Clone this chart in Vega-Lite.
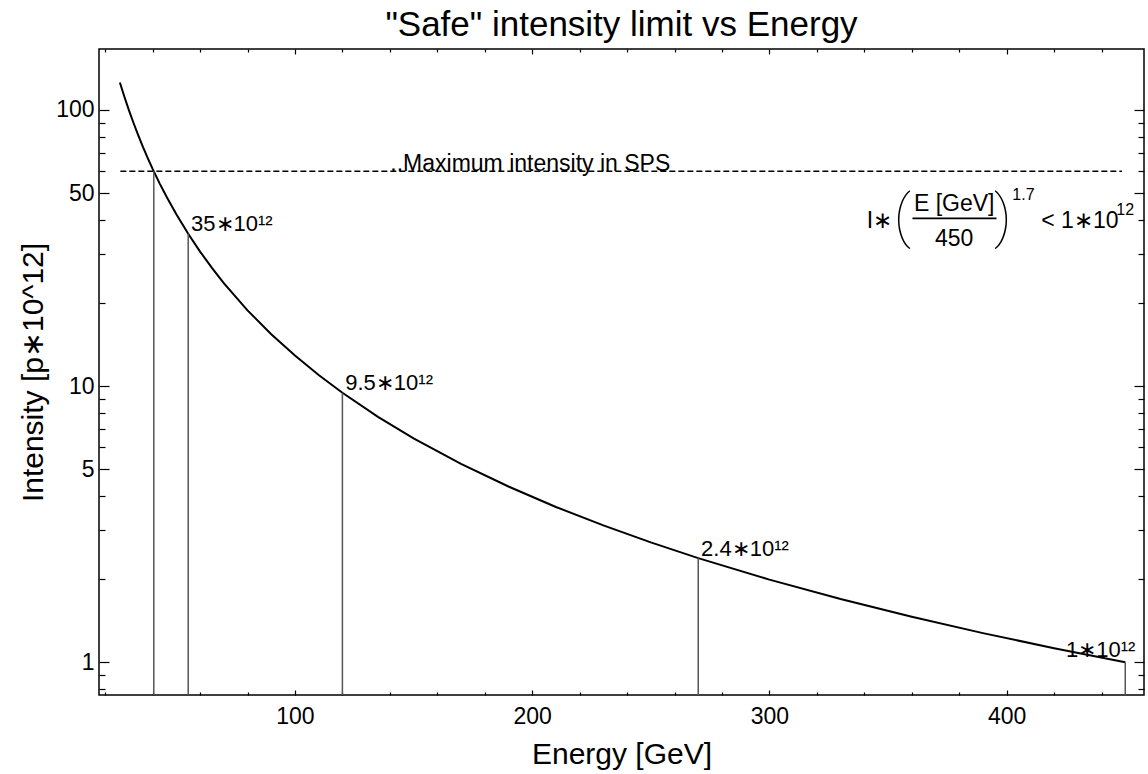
{
  "$schema": "https://vega.github.io/schema/vega-lite/v6.json",
  "width": 1045,
  "height": 646,
  "autosize": {"type": "none"},
  "padding": {"left": 99, "top": 49, "right": 4, "bottom": 79},
  "background": "white",
  "title": {"text": "\"Safe\" intensity limit vs Energy", "fontSize": 35, "font": "Liberation Sans", "fontWeight": "normal", "color": "#000", "offset": 5, "anchor": "middle"},
  "config": {
    "view": {"stroke": "#000", "strokeWidth": 1.5},
    "axis": {"grid": false, "domain": false, "labelFont": "Liberation Sans", "titleFont": "Liberation Sans, Noto Sans, Lato", "labelColor": "#000", "titleColor": "#000", "tickColor": "#000", "tickWidth": 1.2, "labelFontSize": 23, "titleFontSize": 30, "titleFontWeight": "normal"},
    "text": {"font": "Liberation Sans, Noto Sans, Lato", "color": "#000"}
  },
  "datasets": {
    "curve": [
      {"E": 26.2, "I": 125.7}, {"E": 28, "I": 112.3}, {"E": 30, "I": 99.8}, {"E": 32, "I": 89.5},
      {"E": 34, "I": 80.7}, {"E": 36, "I": 73.2}, {"E": 38, "I": 66.8}, {"E": 40, "I": 61.2},
      {"E": 43, "I": 54.1}, {"E": 46, "I": 48.3}, {"E": 50, "I": 41.9}, {"E": 55, "I": 35.6},
      {"E": 60, "I": 30.7}, {"E": 65, "I": 26.8}, {"E": 70, "I": 23.6}, {"E": 80, "I": 18.8},
      {"E": 90, "I": 15.4}, {"E": 100, "I": 12.9}, {"E": 110, "I": 10.97}, {"E": 120, "I": 9.46},
      {"E": 135, "I": 7.74}, {"E": 150, "I": 6.47}, {"E": 170, "I": 5.23}, {"E": 190, "I": 4.33},
      {"E": 210, "I": 3.65}, {"E": 230, "I": 3.13}, {"E": 250, "I": 2.716}, {"E": 270, "I": 2.383},
      {"E": 300, "I": 1.992}, {"E": 330, "I": 1.694}, {"E": 360, "I": 1.461}, {"E": 390, "I": 1.275},
      {"E": 420, "I": 1.124}, {"E": 450, "I": 1.0}
    ],
    "levels": [
      {"E": 40.5, "I": 60}, {"E": 55, "I": 35.6}, {"E": 120, "I": 9.46}, {"E": 270, "I": 2.38}, {"E": 450, "I": 1.0}
    ],
    "levelLabels": [
      {"E": 56.2, "I": 36.3, "label": "35∗10¹²"},
      {"E": 121.2, "I": 9.67, "label": "9.5∗10¹²"},
      {"E": 271.2, "I": 2.43, "label": "2.4∗10¹²"},
      {"E": 425, "I": 1.045, "label": "1∗10¹²"}
    ]
  },
  "resolve": {"axis": {"x": "independent", "y": "independent"}},
  "layer": [
    {
      "data": {"name": "curve"},
      "mark": {"type": "line", "color": "#000", "strokeWidth": 2},
      "encoding": {
        "x": {"field": "E", "type": "quantitative", "scale": {"type": "linear", "domain": [17.4, 457.9], "nice": false, "zero": false},
              "axis": {"orient": "bottom", "values": [100, 200, 300, 400], "ticks": false, "labelPadding": 10, "title": "Energy [GeV]", "titlePadding": 11}},
        "y": {"field": "I", "type": "quantitative", "scale": {"type": "log", "domain": [0.761, 166.2], "nice": false},
              "axis": {"orient": "left", "values": [1, 5, 10, 50, 100], "format": "d", "ticks": false, "labelPadding": 5, "title": "Intensity [p∗10^12]", "titlePadding": 7}}
      }
    },
    {
      "data": {"values": [{"E": 26.4, "E2": 448.6, "I": 60}]},
      "mark": {"type": "rule", "strokeDash": [6, 3], "strokeWidth": 1.5, "color": "#000"},
      "encoding": {
        "x": {"field": "E", "type": "quantitative", "scale": {"type": "linear", "domain": [17.4, 457.9], "nice": false, "zero": false},
              "axis": {"orient": "bottom", "values": [100, 200, 300, 400], "labels": false, "tickSize": -5, "title": null}},
        "x2": {"field": "E2"},
        "y": {"field": "I", "type": "quantitative", "scale": {"type": "log", "domain": [0.761, 166.2], "nice": false},
              "axis": {"orient": "left", "values": [1, 5, 10, 50, 100], "labels": false, "tickSize": -10, "title": null}}
      }
    },
    {
      "data": {"name": "levels"},
      "mark": {"type": "rule", "color": "#555", "strokeWidth": 1.5},
      "encoding": {
        "x": {"field": "E", "type": "quantitative", "scale": {"type": "linear", "domain": [17.4, 457.9], "nice": false, "zero": false},
              "axis": {"orient": "bottom", "values": [20, 40, 60, 80, 120, 140, 160, 180, 220, 240, 260, 280, 320, 340, 360, 380, 420, 440], "labels": false, "tickSize": -3, "title": null}},
        "y": {"field": "I", "type": "quantitative", "scale": {"type": "log", "domain": [0.761, 166.2], "nice": false},
              "axis": {"orient": "left", "values": [0.8, 0.9, 2, 3, 4, 6, 7, 8, 9, 20, 30, 40, 60, 70, 80, 90], "labels": false, "tickSize": -6, "title": null}},
        "y2": {"datum": 0.761}
      }
    },
    {
      "data": {"name": "levelLabels"},
      "mark": {"type": "text", "align": "left", "baseline": "alphabetic", "fontSize": 22},
      "encoding": {
        "x": {"field": "E", "type": "quantitative", "scale": {"type": "linear", "domain": [17.4, 457.9], "nice": false, "zero": false},
              "axis": {"orient": "top", "values": [100, 200, 300, 400], "labels": false, "tickSize": -5, "title": null}},
        "y": {"field": "I", "type": "quantitative", "scale": {"type": "log", "domain": [0.761, 166.2], "nice": false},
              "axis": {"orient": "right", "values": [1, 5, 10, 50, 100], "labels": false, "tickSize": -10, "title": null}},
        "text": {"field": "label"}
      }
    },
    {
      "data": {"values": [{"E": 341.0, "I": 37.4, "t": "I∗"}, {"E": 414.6, "I": 37.4, "t": "< 1∗10"}]},
      "mark": {"type": "text", "align": "left", "baseline": "alphabetic", "fontSize": 23},
      "encoding": {
        "x": {"field": "E", "type": "quantitative", "scale": {"type": "linear", "domain": [17.4, 457.9], "nice": false, "zero": false},
              "axis": {"orient": "top", "values": [20, 40, 60, 80, 120, 140, 160, 180, 220, 240, 260, 280, 320, 340, 360, 380, 420, 440], "labels": false, "tickSize": -3, "title": null}},
        "y": {"field": "I", "type": "quantitative", "scale": {"type": "log", "domain": [0.761, 166.2], "nice": false},
              "axis": {"orient": "right", "values": [0.8, 0.9, 2, 3, 4, 6, 7, 8, 9, 20, 30, 40, 60, 70, 80, 90], "labels": false, "tickSize": -6, "title": null}},
        "text": {"field": "t"}
      }
    },
    {
      "data": {"values": [{"E": 377.9, "I": 43.0, "t": "E [GeV]"}, {"E": 377.9, "I": 32.1, "t": "450"}]},
      "mark": {"type": "text", "align": "center", "baseline": "alphabetic", "fontSize": 23},
      "encoding": {
        "x": {"field": "E", "type": "quantitative", "scale": {"type": "linear", "domain": [17.4, 457.9], "nice": false, "zero": false}, "axis": null},
        "y": {"field": "I", "type": "quantitative", "scale": {"type": "log", "domain": [0.761, 166.2], "nice": false}, "axis": null},
        "text": {"field": "t"}
      }
    },
    {
      "data": {"values": [{"E": 402.4, "I": 47.2, "t": "1.7"}, {"E": 446.2, "I": 41.7, "t": "12"}]},
      "mark": {"type": "text", "align": "left", "baseline": "alphabetic", "fontSize": 16},
      "encoding": {
        "x": {"field": "E", "type": "quantitative", "scale": {"type": "linear", "domain": [17.4, 457.9], "nice": false, "zero": false}, "axis": null},
        "y": {"field": "I", "type": "quantitative", "scale": {"type": "log", "domain": [0.761, 166.2], "nice": false}, "axis": null},
        "text": {"field": "t"}
      }
    },
    {
      "data": {"values": [{"E": 356.0, "I": 40.3, "t": "("}, {"E": 398.4, "I": 40.3, "t": ")"}]},
      "mark": {"type": "text", "align": "center", "baseline": "middle", "fontSize": 58, "font": "Roboto", "fontWeight": 100},
      "encoding": {
        "x": {"field": "E", "type": "quantitative", "scale": {"type": "linear", "domain": [17.4, 457.9], "nice": false, "zero": false}, "axis": null},
        "y": {"field": "I", "type": "quantitative", "scale": {"type": "log", "domain": [0.761, 166.2], "nice": false}, "axis": null},
        "text": {"field": "t"}
      }
    },
    {
      "data": {"values": [{"E": 360.3, "E2": 395.7, "I": 40.5}]},
      "mark": {"type": "rule", "color": "#000", "strokeWidth": 1.8},
      "encoding": {
        "x": {"field": "E", "type": "quantitative", "scale": {"type": "linear", "domain": [17.4, 457.9], "nice": false, "zero": false}, "axis": null},
        "x2": {"field": "E2"},
        "y": {"field": "I", "type": "quantitative", "scale": {"type": "log", "domain": [0.761, 166.2], "nice": false}, "axis": null}
      }
    },
    {
      "data": {"values": [{"E": 140.2, "I": 60, "t": "..Maximum intensity in SPS"}]},
      "mark": {"type": "text", "align": "left", "baseline": "alphabetic", "fontSize": 23},
      "encoding": {
        "x": {"field": "E", "type": "quantitative", "scale": {"type": "linear", "domain": [17.4, 457.9], "nice": false, "zero": false}, "axis": null},
        "y": {"field": "I", "type": "quantitative", "scale": {"type": "log", "domain": [0.761, 166.2], "nice": false}, "axis": null},
        "text": {"field": "t"}
      }
    }
  ]
}
